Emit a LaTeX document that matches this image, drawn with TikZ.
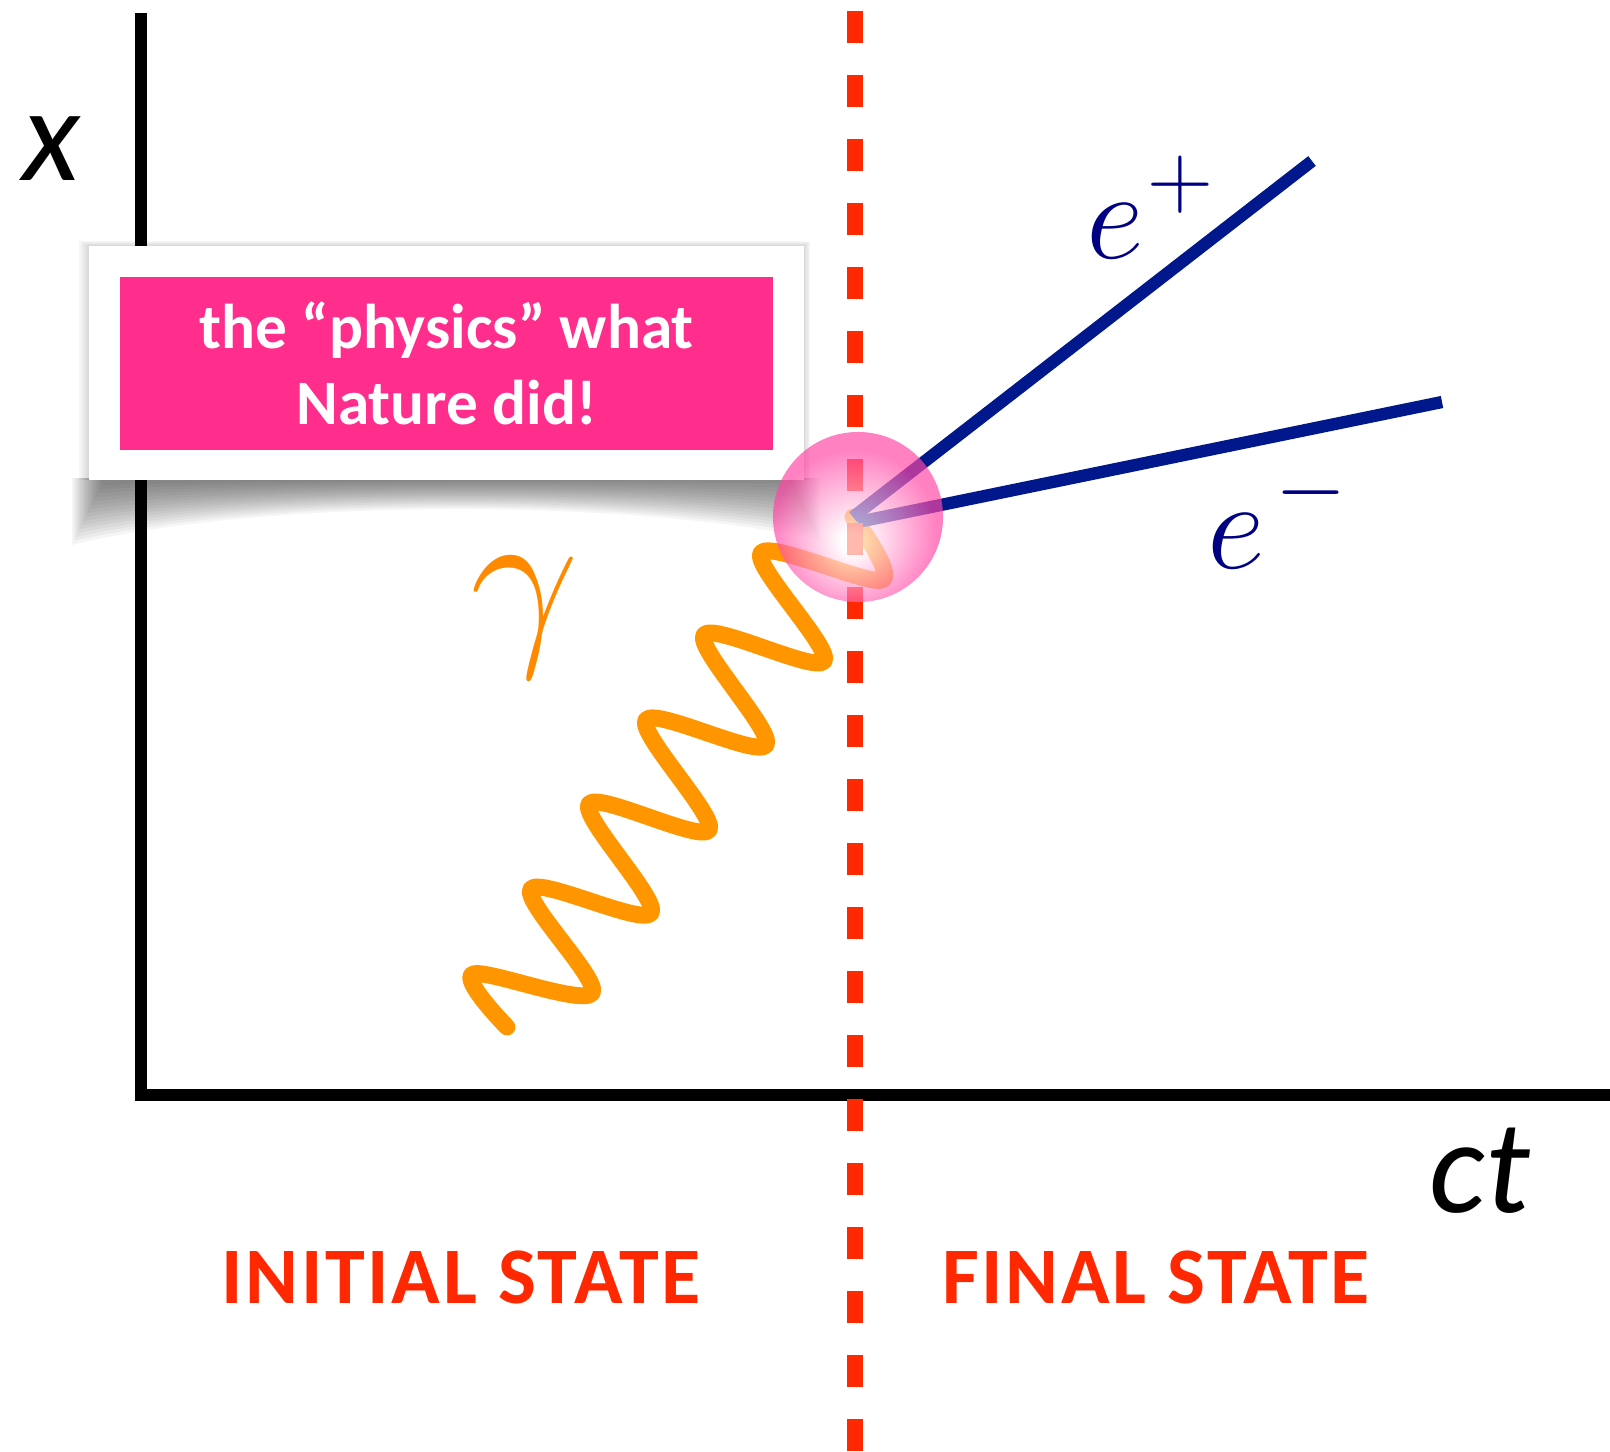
\RequirePackage{fix-cm}
\documentclass[tikz,border=0pt]{standalone}
\usepackage{fontspec}
\newfontfamily\calib{Carlito}
\newfontfamily\calibsp[LetterSpace=3.4]{Carlito}
\usepackage{tikz}
\usetikzlibrary{arrows.meta, positioning}
\usepackage{xcolor}
\definecolor{hotpink}{RGB}{255,46,140}
\definecolor{vtxpink}{RGB}{255,70,165}
\definecolor{photonorange}{RGB}{255,150,0}
\definecolor{gammaorange}{RGB}{255,138,0}
\definecolor{leptonblue}{RGB}{0,24,140}
\definecolor{labelblue}{RGB}{0,0,130}
\definecolor{cutred}{RGB}{255,40,0}
\pgfdeclareradialshading{vtxglow}{\pgfpoint{-2bp}{-8bp}}{color(0bp)=(white); color(3bp)=(white); color(24bp)=(vtxpink); color(50bp)=(vtxpink)}

\begin{document}
\begin{tikzpicture}[
  x=0.01cm, y=-0.01cm,
  axis/.style={line width=3.4pt, black},
  cut/.style={line width=4.55pt, cutred, dash pattern=on 9.1pt off 9.1pt},
  photon/.style={line width=4.8pt, photonorange, line cap=round, line join=round},
  lepton/.style={line width=3.5pt, leptonblue},
  axlabel/.style={font=\calib\itshape\fontsize{38}{40}\selectfont, inner sep=0pt, anchor=base},
  statelbl/.style={font=\calibsp\bfseries\fontsize{22.8}{26}\selectfont, text=cutred, inner sep=0pt, anchor=base},
  partlbl/.style={text=labelblue, inner sep=0pt, anchor=base west, font=\fontsize{36}{40}\selectfont},
  callout/.style={fill=white, minimum width=7.15cm, minimum height=2.34cm, inner sep=0pt},
  msgbox/.style={fill=hotpink, minimum width=6.53cm, minimum height=1.73cm, inner sep=0pt,
    text=white, align=center, font=\calib\bfseries\fontsize{18}{21.6}\selectfont},
  blob/.style={circle, minimum size=1.7cm, inner sep=0pt, shade, shading=vtxglow, opacity=0.68}
]
\useasboundingbox (0,0) rectangle (1610,1451);

\coordinate (origin) at (141,1095);
\coordinate (xtop) at (141,13);
\coordinate (ctend) at (1610,1095);
\draw[axis] (xtop) -- (origin |- 0,1101) ;
\draw[axis] (135,1095) -- (ctend);

\node[axlabel] (xlbl) at (51,180) {x};
\node[axlabel] (ctlbl) at (1480,1212) {ct};

% callout with its shadow
\foreach \k in {1,...,5}
  \fill[black, opacity=0.03] (89-2*\k,246-\k) rectangle (804+1.2*\k,480);
\foreach \k in {0,...,15}
  \fill[black, opacity=0.04] (72+2*\k,478) -- (72+2*\k,545-4*\k)
    .. controls (260,498-1.2*\k) and (630,498-1.2*\k) .. (820-2*\k,540-4*\k) -- (820-2*\k,478) -- cycle;
\node[callout] (note) at (446.5,363) {};
\node[msgbox] (msg) at (446.5,363.5) {the “physics” what\\Nature did!};

% photon, leptons
\coordinate (vtx) at (853,517);
\coordinate (phs) at (507,1027);
\coordinate (epend) at (1312,161);
\coordinate (emstart) at (858,522);
\coordinate (emend) at (1442,402);
\draw[photon] plot[smooth, tension=0.55] coordinates {(phs) (473,974) (592,993) (531,889) (651,913)
  (589,804) (709,830) (646,720) (766,745) (704,635) (824,661) (761,553) (882,580) (vtx)};
\draw[lepton] (vtx) -- (epend);
\draw[lepton] (emstart) -- (emend);

\node[partlbl] (eplbl) at (1086,258) {$e$\kern1pt\raisebox{14.5pt}{\fontsize{26}{30}\selectfont$+$}};
\node[partlbl] (emlbl) at (1207,568) {$e$\kern3pt\raisebox{15pt}{\fontsize{26}{30}\selectfont$-$}};
\node[inner sep=0pt, anchor=base, text=gammaorange, font=\fontsize{55}{60}\selectfont] (glbl) at (525,640) {$\gamma$};

\coordinate (cuttop) at (855,10.7);
\coordinate (cutbot) at (855,1451);
\draw[cut] (cuttop) -- (cutbot);

\node[blob] (vblob) at (858,517) {};

\node[statelbl] (ini) at (461,1303) {INITIAL STATE};
\node[statelbl] (fin) at (1156,1303) {FINAL STATE};
\end{tikzpicture}
\end{document}
